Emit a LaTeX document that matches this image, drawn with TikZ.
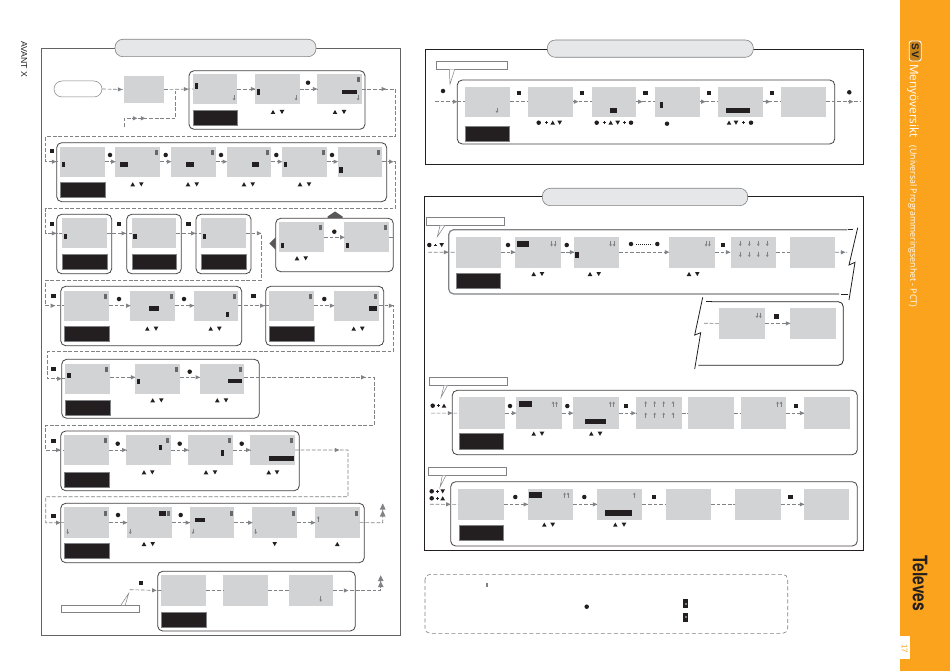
\documentclass[tikz,border=0pt]{standalone}
\usepackage{graphicx}
\usepackage{fontspec}
\setmainfont{Liberation Sans}
\newfontfamily\opens{Open Sans}
\newfontfamily\heros{TeX Gyre Heros}
\usetikzlibrary{decorations.markings}
\definecolor{flowgray}{HTML}{808285}
\definecolor{scrgray}{HTML}{D1D3D4}
\definecolor{inkblack}{HTML}{231F20}
\definecolor{pillgray}{HTML}{E6E7E8}
\definecolor{orangeband}{HTML}{FBA31C}
\tikzset{
  flowtip/.style={postaction={decorate,decoration={markings,mark=at position #1 with {\fill[flowgray] (2.4,0)--(-2.1,2.1)--(-2.1,-2.1)--cycle;}}}},
  flowbig/.style={postaction={decorate,decoration={markings,mark=at position #1 with {\fill[flowgray] (3,0)--(-3,2.9)--(-3,-2.9)--cycle;}}}},
  conn/.style={draw=flowgray,line width=0.65pt,dash pattern=on 3.8pt off 1.8pt},
  screen/.style={fill=scrgray,inner sep=0pt,outer sep=0pt},
  blacklabel/.style={fill=inkblack,draw=flowgray,line width=0.3pt,inner sep=0pt,outer sep=0pt},
  grp/.style={draw=inkblack!85,line width=0.8pt,rounded corners=5pt,inner sep=0pt,outer sep=0pt},
  pill/.style={fill=pillgray,draw=flowgray,line width=0.6pt,rounded corners=8pt,inner sep=0pt,outer sep=0pt},
  panel/.style={draw=inkblack,line width=0.8pt,inner sep=0pt,outer sep=0pt},
  callbox/.style={fill=white,draw=flowgray,line width=0.5pt,inner sep=0pt,outer sep=0pt},
  callptr/.style={fill=white,draw=flowgray,line width=0.5pt},
  jag/.style={draw=inkblack,line width=0.8pt},
}
\newcommand\Rct[6]{\node[#1,anchor=north west,minimum width={(#5-#3)*1pt},minimum height={(#6-#4)*1pt}] (#2) at (#3,#4) {};}
\newcommand\Scr[5]{\Rct{screen}{#1}{#2}{#3}{#4}{#5}}
\newcommand\Blk[5]{\Rct{blacklabel}{#1}{#2}{#3}{#4}{#5}}
\newcommand\Grp[5]{\Rct{grp}{#1}{#2}{#3}{#4}{#5}}
\newcommand\Cur[4]{\fill[inkblack] (#1,#2) rectangle (#3,#4);}
\newcommand\Ic[2]{\fill[flowgray!80!black] ({#1-1.5},{#2-2.5}) rectangle ({#1+1.5},{#2+2.5});}
\newcommand\Dt[2]{\fill[inkblack] (#1,#2) circle (2.25);}
\newcommand\Sq[2]{\fill[inkblack] ({#1-2.2},{#2-2.2}) rectangle ({#1+2.2},{#2+2.2});}
\newcommand\Up[2]{\fill[inkblack] ({#1-2.3},{#2+2}) -- ({#1+2.3},{#2+2}) -- (#1,{#2-2.1}) -- cycle;}
\newcommand\Dn[2]{\fill[inkblack] ({#1-2.3},{#2-2}) -- ({#1+2.3},{#2-2}) -- (#1,{#2+2.1}) -- cycle;}
\newcommand\UD[3]{\Up{#1}{#3}\Dn{#2}{#3}}
\newcommand\Pl[2]{\draw[inkblack,line width=0.5pt] ({#1-1.4},#2) -- ({#1+1.4},#2) (#1,{#2-1.4}) -- (#1,{#2+1.4});}
\newcommand\Da[2]{\draw[flowgray,line width=0.55pt] (#1,{#2-2.6}) -- (#1,{#2+2}); \fill[flowgray] ({#1-1.4},{#2+0.6}) -- ({#1+1.4},{#2+0.6}) -- (#1,{#2+2.8}) -- cycle;}
\newcommand\Ua[2]{\draw[flowgray,line width=0.55pt] (#1,{#2+2.6}) -- (#1,{#2-2}); \fill[flowgray] ({#1-1.4},{#2-0.6}) -- ({#1+1.4},{#2-0.6}) -- (#1,{#2-2.8}) -- cycle;}
\begin{document}
\begin{tikzpicture}[x=1pt,y=-1pt]
\useasboundingbox (0,0) rectangle (950,671);
\fill[white] (0,0) rectangle (950,671);
% orange band
\fill[orangeband] (900,0) rectangle (950,671);
\node[fill=white,anchor=north west,minimum width=10pt,minimum height=22.3pt,inner sep=0pt] (pagebox) at (900,636) {};
\node[rotate=-90,text=orangeband,font=\fontsize{8}{9}\selectfont] (pagenum) at (904.5,648.5) {17};
\node[rotate=-90,draw=white,line width=0.9pt,fill=orangeband!75!inkblack,rounded corners=2.5pt,minimum width=20pt,minimum height=12pt,inner sep=0pt,font=\fontsize{10}{11}\bfseries\selectfont,text=inkblack] (svbadge) at (915.2,51) {S\,V};
\node[rotate=-90,text=white,font=\opens\fontsize{11.8}{14}\selectfont] (menytitle) at (913,101) {Menyöversikt};
\node[rotate=-90,text=white,font=\opens\fontsize{8.8}{10}\selectfont] (pcttitle) at (912.7,226.5) {(Universal Programmeringsenhet - PCT)};
\node[rotate=-90,text=inkblack,font=\heros\fontsize{20}{21}\bfseries\selectfont] (televes) at (920,583) {\scalebox{0.78}[1]{Televes}};
\node[rotate=-90,text=inkblack,font=\fontsize{8.7}{9}\selectfont] (avant) at (24,59.5) {AVANT X};
% left panel
\Rct{panel,draw=inkblack!70}{pleft}{41.3}{48}{400}{635}
\Rct{pill}{pillA}{115}{39.3}{316}{56.7}
% groups
\Grp{ga}{189}{70.7}{365}{129.3}
\Grp{gb}{56.7}{142.7}{386.7}{201.7}
\Grp{gc1}{56.7}{214.3}{111.7}{273.7}
\Grp{gc2}{126.7}{214.3}{181.3}{273.7}
\Grp{gc3}{196}{214.3}{251}{273.7}
\Grp{gc4}{275.7}{218.3}{393.3}{271.7}
\Grp{gd1}{60.7}{286.3}{241.7}{345.7}
\Grp{gd2}{265.7}{286.3}{383.7}{345.7}
\Grp{ge}{61.7}{359.3}{259.3}{418.3}
\Grp{gf}{60.7}{431}{299.3}{490.7}
\Grp{gg}{60.7}{503.3}{364.3}{562.7}
\Grp{gh}{157.7}{571.3}{355.3}{631}
% screens left
\node[fill=white,draw=flowgray,line width=0.5pt,rounded corners=8pt,anchor=north west,minimum width=48pt,minimum height=16pt,inner sep=0pt,outer sep=0pt] (start) at (54,81) {};
\Scr{s0}{124}{76}{164}{103}
\Scr{a1}{193}{74}{237.3}{104}\Scr{a2}{255}{74}{299.7}{104}\Scr{a3}{317}{74}{361.7}{104}
\Blk{al}{193}{110}{237.3}{125.6}
\Scr{b1}{60}{146.7}{104.7}{176.7}\Scr{b2}{115.3}{146.7}{160}{176.7}\Scr{b3}{171}{146.7}{215.7}{176.7}\Scr{b4}{226.7}{146.7}{271.3}{176.7}\Scr{b5}{282}{146.7}{326.7}{176.7}\Scr{b6}{337.7}{146.7}{382.3}{176.7}
\Blk{bl}{60}{182}{104.7}{197}
\Scr{c1}{62}{218.3}{106.7}{248.3}\Scr{c2}{131.7}{218.3}{176.3}{248.3}\Scr{c3}{201.3}{218.3}{246}{248.3}
\Blk{cl1}{62}{254}{106.7}{269}\Blk{cl2}{131.7}{254}{176.3}{269}\Blk{cl3}{201.3}{254}{246}{269}
\Scr{c4}{279}{222.3}{324}{252.3}\Scr{c5}{344.3}{222.3}{389.3}{252.3}
\Scr{d1}{64.3}{290.7}{109}{320.7}\Scr{d2}{130.3}{290.7}{175}{320.7}\Scr{d3}{193.7}{290.7}{238.3}{320.7}
\Blk{dl1}{64.3}{326.3}{109}{341}
\Scr{d4}{269.3}{290.7}{314}{320.7}\Scr{d5}{334}{290.7}{379}{320.7}
\Blk{dl2}{269.3}{326.3}{314}{341}
\Scr{e1}{65.3}{363.7}{110}{393.7}\Scr{e2}{135}{363.7}{180}{393.7}\Scr{e3}{199.7}{363.7}{244.3}{393.7}
\Blk{el}{65.3}{399.7}{110}{415}
\Scr{f1}{64.3}{435}{109}{465}\Scr{f2}{126.3}{435}{171}{465}\Scr{f3}{188.3}{435}{233}{465}\Scr{f4}{250.3}{435}{295}{465}
\Blk{fl}{64.3}{471.7}{109}{486.7}
\Scr{g1}{64.3}{507.3}{109}{538}\Scr{g2}{127}{507.3}{172}{538}\Scr{g3}{189.7}{507.3}{234.3}{538}\Scr{g4}{252.3}{507.3}{297}{538}\Scr{g5}{315}{507.3}{359.7}{538}
\Blk{gl}{64.3}{543.3}{109}{558.3}
\Scr{h1}{161.3}{575.3}{206}{605.7}\Scr{h2}{223}{575.3}{268}{605.7}\Scr{h3}{288.7}{575.3}{333.3}{605.7}
\Blk{hl}{161.3}{612}{206}{627}
% free ends
\coordinate (ffin) at (124,126.7);
\coordinate (c5out) at (393.3,237.3);
\coordinate (gout) at (382.7,504);
\coordinate (hin) at (129.7,589.7);
\coordinate (hout) at (380.7,575.7);
% connectors left
\draw[conn,flowtip=-4pt] (start.east) -- (s0.west);
\draw[conn,flowtip=-7pt] (s0.east) -- (a1.west);
\draw[conn,flowtip=19.4pt,flowtip=27.4pt] (ffin) -- (124,118.3) -- (175.7,118.3) -- (175.7,89);
\draw[conn,flowtip=-2pt] (a1.east) -- (a2.west);
\draw[conn,flowtip=-2pt] (a2.east) -- (a3.west);
\draw[conn,flowtip=22pt,flowtip=-6pt] (a3.east) -- (395.3,89) -- (395.3,136.7) -- (45.7,136.7) -- (45.7,161.7) -- (b1.west);
\draw[conn,flowtip=-2pt] (b1.east) -- (b2.west);
\draw[conn,flowtip=-2pt] (b2.east) -- (b3.west);
\draw[conn,flowtip=-2pt] (b3.east) -- (b4.west);
\draw[conn,flowtip=-2pt] (b4.east) -- (b5.west);
\draw[conn,flowtip=-2pt] (b5.east) -- (b6.west);
\draw[conn,flowtip=9pt,flowtip=-8pt] (b6.east) -- (395.3,161.7) -- (395.3,208.3) -- (45.7,208.3) -- (45.7,233.3) -- (c1.west);
\draw[conn,flowtip=-8pt] (c1.east) -- (c2.west);
\draw[conn,flowtip=-8pt] (c2.east) -- (c3.west);
\draw[conn,flowtip=13pt,flowtip=-11.5pt] (c3.east) -- (261,233.3) -- (261,280.3) -- (45.7,280.3) -- (45.7,305.7) -- (d1.west);
\draw[conn,flowtip=-2pt] (c4.east) -- (c5.west);
\draw[conn] (c5.east) -- (c5out);
\draw[conn,flowtip=-2pt] (d1.east) -- (d2.west);
\draw[conn,flowtip=-2pt] (d2.east) -- (d3.west);
\draw[conn,flowtip=-7pt] (d3.east) -- (d4.west);
\draw[conn,flowtip=-2pt] (d4.east) -- (d5.west);
\draw[conn,flowtip=12pt,flowtip=-6pt] (d5.east) -- (393,305.7) -- (393,351.7) -- (47,351.7) -- (47,378.7) -- (e1.west);
\draw[conn,flowtip=-2pt] ([yshift=1.4pt]e1.east) -- ([yshift=1.4pt]e2.west);
\draw[conn,flowtip=-2pt] ([yshift=1.4pt]e2.east) -- ([yshift=1.4pt]e3.west);
\draw[conn,flowtip=119pt,flowtip=-6pt] ([yshift=1.4pt]e3.east) -- (374.3,377.3) -- (374.3,425) -- (45.7,425) -- (45.7,450) -- (f1.west);
\draw[conn,flowtip=-2pt] (f1.east) -- (f2.west);
\draw[conn,flowtip=-2pt] (f2.east) -- (f3.west);
\draw[conn,flowtip=-2pt] (f3.east) -- (f4.west);
\draw[conn,flowtip=42pt,flowtip=-6pt] (f4.east) -- (348,450) -- (348,496.7) -- (45.7,496.7) -- (45.7,522.7) -- (g1.west);
\draw[conn,flowtip=-2pt] (g1.east) -- (g2.west);
\draw[conn,flowtip=-2pt] (g2.east) -- (g3.west);
\draw[conn,flowtip=-2pt] (g3.east) -- (g4.west);
\draw[conn,flowtip=-2pt] (g4.east) -- (g5.west);
\draw[conn,flowbig=-2.5pt,flowbig=-9.5pt] (g5.east) -- (382.7,522.7) -- (gout);
\draw[conn,flowtip=-7pt] (hin) -- (h1.west);
\draw[conn] (h1.east) -- (h2.west);
\draw[conn] (h2.east) -- (h3.west);
\draw[conn,flowtip=12.7pt,flowbig=-2.5pt,flowbig=-8.5pt] (h3.east) -- (380.7,590.5) -- (hout);
% callout left
\node[callbox,anchor=north west,minimum width=78.4pt,minimum height=7.7pt] (calloutH) at (61.3,605) {};
\filldraw[callptr] (121,605) -- (128.7,593.3) -- (125.3,605);
% dark arrows
\fill[inkblack!75] (335,211.5) -- (342.5,216.5) -- (342.5,218) -- (327.5,218) -- (327.5,216.5) -- cycle;
\fill[inkblack!75] (269.3,243.5) -- (275.5,237.5) -- (275.5,249.5) -- cycle;
% cursors, icons, marks left
\Cur{194.5}{83}{198}{89}\Cur{257}{89}{260.3}{94.7}\Cur{342}{89.7}{356.7}{94}
\Ic{358}{80}\Da{234}{97.7}\Da{296}{97.7}\Da{358}{97.7}
\UD{273}{282}{112}\UD{335}{344}{112}\Dt{308}{82.7}
\Sq{51.7}{151}
\Cur{62}{162}{65}{167}\Cur{120}{162}{128}{167}\Cur{186}{162}{194}{167}\Cur{251.7}{162}{259.3}{167}\Cur{284}{162}{287.3}{167}\Cur{339.3}{167}{342.7}{173}
\Ic{156.5}{152.5}\Ic{212}{152.5}\Ic{267.5}{152.5}\Ic{323}{152.5}\Ic{378.7}{152.5}
\UD{132.7}{141.3}{184.3}\UD{188}{196.7}{184.3}\UD{244}{252.7}{184.3}\UD{300}{309}{184.3}
\Dt{110}{155}\Dt{165.7}{155}\Dt{221}{155}\Dt{276.3}{155}\Dt{332}{155}
\Sq{51.7}{224}\Sq{118.7}{224}\Sq{188.3}{224}
\Cur{63.7}{233.7}{67}{239}\Cur{133.3}{233.7}{136.7}{239}\Cur{203}{233.7}{206.3}{239}
\Cur{281}{243}{284.3}{248}\Cur{346}{243}{349.3}{248}\Ic{320.5}{227}\Ic{385.5}{227}
\Dt{334.3}{231.7}\UD{297}{305.7}{258.3}
\Sq{53.3}{296}\Sq{253.3}{296}\Dt{119}{299}\Dt{184}{299}\Dt{324.3}{299}
\Cur{149}{306}{159.3}{311}\Cur{226}{312}{229.3}{317}\Cur{369.3}{306}{377}{311}
\Ic{105.5}{296}\Ic{171.5}{296}\Ic{234.5}{296}\Ic{310.5}{296}\Ic{375.5}{296}
\UD{147.3}{156}{328.7}\UD{210.7}{219.3}{328.7}\UD{353.7}{362.3}{328.7}
\Sq{53.3}{368.7}\Dt{189.7}{371.7}
\Cur{67.3}{372.7}{70.7}{378}\Cur{137}{378.7}{140.3}{384}\Cur{228.3}{378.7}{242.3}{383}
\Ic{106.5}{369}\Ic{176}{369}\Ic{240.5}{369}
\UD{152.7}{161.3}{400.3}\UD{217.3}{226}{400.3}
\Sq{53.3}{441}\Dt{117.7}{443.7}\Dt{179.7}{443.7}\Dt{241.7}{443.7}
\Cur{158.7}{444.7}{162}{450}\Cur{220.7}{450.3}{224}{456}\Cur{269}{456.3}{293.7}{461}
\Ic{105.5}{440.5}\Ic{167.5}{440.5}\Ic{229.5}{440.5}\Ic{291.5}{440.5}
\UD{144}{152.3}{472.3}\UD{206}{215}{472.3}\UD{268.7}{277}{472.3}
\Sq{53.3}{516}\Dt{118}{515}\Dt{180.7}{515}
\Cur{159}{511}{166.3}{516}\Cur{195.3}{518}{205}{522}
\Ic{105.5}{513}\Ic{168.3}{513}\Ic{231}{513}\Ic{293.5}{513}\Ic{356}{513}
\Da{67.7}{531.3}\Da{130.3}{531.3}\Da{193}{531.3}\Da{255.7}{531.3}\Ua{318.3}{519}
\UD{144}{152.7}{544}\Dn{274.7}{544}\Up{337.3}{544}
\Sq{141}{582.7}\Da{320.7}{599}
% panel 2
\Rct{panel}{pmid}{425.7}{49.3}{863.7}{164.3}
\Rct{pill}{pillB}{547.3}{40}{753.3}{57.3}
\Grp{gr}{457.3}{80}{834.7}{144}
\Scr{r1}{465}{86.7}{510}{116.7}\Scr{r2}{528}{86.7}{573}{116.7}\Scr{r3}{591.7}{86.7}{636.3}{116.7}\Scr{r4}{655}{86.7}{699.7}{116.7}\Scr{r5}{718}{86.7}{763}{116.7}\Scr{r6}{781.3}{86.7}{826}{116.7}
\Blk{rl}{465}{126}{509}{141}
\coordinate (rin) at (435,101.7);
\coordinate (rout) at (860,101.7);
\draw[conn,flowtip=-10pt] (rin) -- (r1.west);
\draw[conn] (r1.east) -- (r2.west);
\draw[conn,flowtip=3pt] (r2.east) -- (r3.west);
\draw[conn,flowtip=4pt] (r3.east) -- (r4.west);
\draw[conn,flowtip=3.6pt] (r4.east) -- (r5.west);
\draw[conn,flowtip=5pt] (r5.east) -- (r6.west);
\draw[conn,flowtip=-9pt] (r6.east) -- (rout);
\node[callbox,anchor=north west,minimum width=71pt,minimum height=7.6pt] (calloutR) at (436.3,61.7) {};
\filldraw[callptr] (449.3,69.3) -- (450,84.3) -- (454.7,69.3);
\Cur{610.3}{108.3}{616.7}{113}\Cur{660}{102.3}{662.7}{107.7}\Cur{726.3}{108.3}{750}{113}
\Da{497}{110.3}
\Dt{443}{91}\Dt{849.3}{92.3}
\Sq{518.7}{93}\Sq{582}{93}\Sq{645.3}{93}\Sq{708.7}{93}\Sq{772}{93}
\Dt{538.7}{122.7}\Pl{546.7}{122.7}\UD{552.7}{559.7}{122.7}
\Dt{596.7}{122.7}\Pl{604.3}{122.7}\UD{610.7}{617.7}{122.7}\Pl{624.7}{122.7}\Dt{631}{122.7}
\Dt{667}{123.7}
\UD{729}{736}{122.7}\Pl{743.7}{122.7}\Dt{751}{122.7}
% panel 3
\Rct{panel}{pbot}{424.7}{196.3}{863.7}{550.3}
\Rct{pill}{pillC}{542.3}{188.3}{747.7}{205.7}
% broken group 1
\draw[draw=flowgray,line width=1.2pt,rounded corners=5pt] (847.3,229.7) -- (448.7,229.7) -- (448.7,294) -- (839,294);
\draw[jag] (848,229.7) -- (853,229.7) (841,294) -- (848,294);
\draw[jag] (857.7,227.7) -- (849,265) -- (855,262.3) -- (849,300);
\Scr{p1}{455.7}{236.7}{501}{267.7}\Scr{p2}{515}{236.7}{560.7}{267.7}\Scr{p3}{574}{236.7}{619}{267.7}\Scr{p4}{669}{236.7}{715}{267.7}\Scr{p5}{731}{236.7}{776}{267.7}\Scr{p6}{790}{236.7}{835}{267.7}
\Blk{pl}{455.7}{272.7}{500}{287.7}
\coordinate (pin) at (428.3,252.3);
\coordinate (pout) at (847,252.3);
\draw[conn,flowtip=-9.7pt] (pin) -- (p1.west);
\draw[conn,flowtip=-2pt] (p1.east) -- (p2.west);
\draw[conn,flowtip=-2pt] (p2.east) -- (p3.west);
\draw[conn,flowtip=-2pt] (p3.east) -- (p4.west);
\draw[conn,flowtip=-3pt] (p4.east) -- (p5.west);
\draw[conn] (p5.east) -- (p6.west);
\draw[conn,flowtip=-4pt] (p6.east) -- (pout);
\node[callbox,anchor=north west,minimum width=78.4pt,minimum height=8pt] (calloutP) at (426.3,217.7) {};
\filldraw[callptr] (440,225.7) -- (437.3,236.7) -- (444.7,225.7);
\Dt{429.3}{245}\Pl{435.3}{245}\Dn{441.7}{245}
\Dt{508}{245}\Dt{566.7}{245}\Dt{631}{244}\Dt{657.3}{244}
\draw[inkblack,line width=0.7pt,dash pattern=on 0.8pt off 1.2pt] (636,244) -- (652,244);
\Sq{722.7}{244.7}
\Cur{517}{240.7}{529.3}{247}\Cur{575.3}{252}{579.3}{258}
\foreach \dx in {551.6,555} {\Da{\dx}{243.7}}
\foreach \dx in {610.6,614} {\Da{\dx}{243.7}}
\foreach \dx in {706,709.4} {\Da{\dx}{243.7}}
\foreach \dx in {740.3,749.3,758.3,767.3} {\Da{\dx}{243.3}\Da{\dx}{254.3}}
\UD{533.7}{542}{274}\UD{590}{598.7}{274}\UD{689}{697.3}{274}
% broken group 1b
\draw[draw=inkblack,line width=0.8pt,rounded corners=5pt] (711,301.7) -- (843.3,301.7) -- (843.3,365.3) -- (698.3,365.3);
\draw[jag,line width=1.1pt] (706,301.7) -- (712,301.7);
\draw[jag] (702.7,297.3) -- (694.7,335) -- (700.7,332.7) -- (694.7,369);
\Scr{q1}{719}{308}{765}{338.7}\Scr{q2}{790}{308}{836}{338.7}
\coordinate (qin) at (704,323.3);
\draw[conn] (qin) -- (q1.west);
\draw[conn,flowtip=-2pt] (q1.east) -- (q2.west);
\foreach \dx in {757,760.4} {\Da{\dx}{315.3}}
\Sq{776.3}{316.3}
% group t
\Grp{gt}{452.3}{390.3}{857.3}{454.7}
\Scr{t1}{459}{397.3}{505}{429}\Scr{t2}{516}{397.3}{562}{429}\Scr{t3}{573}{397.3}{619}{429}\Scr{t4}{636}{397.3}{681.7}{429}\Scr{t5}{688}{397.3}{734}{429}\Scr{t6}{741}{397.3}{786}{429}\Scr{t7}{804}{397.3}{850}{429}
\Blk{tl}{459}{433.3}{503}{448.7}
\coordinate (tin) at (431,413.1);
\draw[conn,flowtip=-9pt] (tin) -- (t1.west);
\draw[conn,flowtip=-2pt] (t1.east) -- (t2.west);
\draw[conn,flowtip=-2pt] (t2.east) -- (t3.west);
\draw[conn,flowtip=-2.5pt] (t3.east) -- (t4.west);
\draw[conn] (t4.east) -- (t5.west);
\draw[conn] (t5.east) -- (t6.west);
\draw[conn,flowtip=-2pt] (t6.east) -- (t7.west);
\node[callbox,anchor=north west,minimum width=78pt,minimum height=8pt] (calloutT) at (429.7,377.7) {};
\filldraw[callptr] (444,385.7) -- (441,397.3) -- (447.3,385.7);
\Dt{432.7}{405.7}\Pl{438.3}{405.7}\Up{444}{405.7}
\Dt{510}{406}\Dt{567.3}{406}\Sq{625.7}{406}\Sq{795.7}{406}
\Cur{519}{401.3}{532}{407}\Cur{585.3}{418.7}{606}{424}
\foreach \dx in {553,556.4} {\Ua{\dx}{404.3}}
\foreach \dx in {610.3,613.7} {\Ua{\dx}{404.3}}
\foreach \dx in {777.6,781} {\Ua{\dx}{404.3}}
\foreach \dx in {645.7,654.7,663.7,673} {\Ua{\dx}{404}\Ua{\dx}{415.3}}
\UD{533.7}{542}{433.7}\UD{591.3}{600}{433.7}
% group u
\Grp{gu}{450.7}{481.7}{857.3}{546}
\Scr{u1}{458.3}{488.7}{504}{520}\Scr{u2}{527.7}{488.7}{573}{520}\Scr{u3}{597}{488.7}{642.3}{520}\Scr{u4}{666}{488.7}{711}{520}\Scr{u5}{735}{488.7}{781}{520}\Scr{u6}{804}{488.7}{849}{520}
\Blk{ul}{458.7}{525}{502.7}{540}
\coordinate (uin) at (430,504.3);
\draw[conn,flowtip=-10pt] (uin) -- (u1.west);
\draw[conn,flowtip=-2pt] (u1.east) -- (u2.west);
\draw[conn,flowtip=-2pt] (u2.east) -- (u3.west);
\draw[conn] (u3.east) -- (u4.west);
\draw[conn] (u4.east) -- (u5.west);
\draw[conn,flowtip=-2pt] (u5.east) -- (u6.west);
\node[callbox,anchor=north west,minimum width=77.7pt,minimum height=8pt] (calloutU) at (428.3,467.7) {};
\filldraw[callptr] (442.3,475.7) -- (440,487) -- (445.7,475.7);
\Dt{431.7}{491.3}\Pl{437.7}{491.3}\Dn{442.7}{491.3}
\Dt{431.7}{498.3}\Pl{437.7}{498.3}\Up{442.7}{498.3}
\Dt{515.3}{497}\Dt{584.3}{497}\Sq{653.7}{497}\Sq{790.3}{497}
\Cur{529}{492}{542.3}{498}\Cur{605}{510}{631.7}{516}
\foreach \dx in {564.6,568} {\Ua{\dx}{495.3}}
\Ua{634.3}{495.3}
\UD{544.3}{552.7}{524.7}\UD{615.3}{624}{524.7}
% legend
\draw[draw=flowgray,line width=0.6pt,dash pattern=on 4pt off 2.5pt,rounded corners=5pt] (425,574.3) rectangle (787.7,633.3);
\draw[flowgray,line width=0.4pt] (486,583) -- (486,587) (487.5,583) -- (487.5,587);
\Dt{586.7}{606.7}
\fill[inkblack] (683.2,599.2) rectangle (688.2,608.2);\fill[flowgray] (684.5,602.5) rectangle (687,605);
\fill[inkblack] (683.2,612.5) rectangle (688.2,621.5);\fill[flowgray] (684.5,615.8) rectangle (687,618.3);
\end{tikzpicture}
\end{document}
